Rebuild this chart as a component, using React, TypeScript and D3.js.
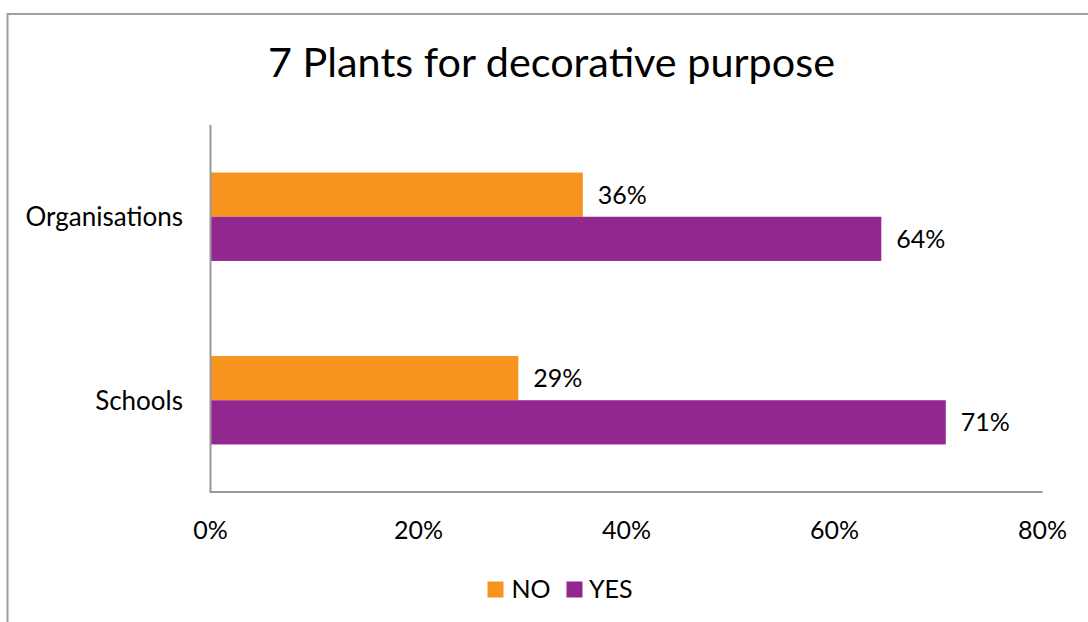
import React from "react";
import * as d3 from "d3";

const categories = ["Organisations", "Schools"];
const seriesNames = ["NO", "YES"];
const noValues = [35.8, 29.6];
const yesValues = [64.5, 70.7];
const noLabels = ["36%", "29%"];
const yesLabels = ["64%", "71%"];
const xTicks = [0, 20, 40, 60, 80];
const colors = ["#F7941D", "#92278F"];
const title = "7 Plants for decorative purpose";

const W = 1088;
const H = 622;
const FONT = "Lato, 'Open Sans', sans-serif";

export default function App() {
  const x = d3.scaleLinear().domain([0, 80]).range([210.5, 1042.5]);
  const y = d3.scaleBand<string>().domain(categories).range([125, 492]).padding(0);
  const inner = d3
    .scaleBand<string>()
    .domain(seriesNames)
    .range([0, y.bandwidth()])
    .paddingInner(0)
    .paddingOuter(1.076);

  const series = [
    { name: "NO", values: noValues, labels: noLabels, color: colors[0] },
    { name: "YES", values: yesValues, labels: yesLabels, color: colors[1] },
  ];

  return (
    <svg
      width={W}
      height={H}
      style={{ position: "absolute", left: 0, top: 0, background: "#fff" }}
      fontFamily={FONT}
    >
      <rect x={7.5} y={14} width={W + 20} height={H + 20} fill="#fff" stroke="#a0a0a0" strokeWidth={2} />
      <text x={268} y={77} fontSize={40} fill="#000" textLength={567} lengthAdjust="spacingAndGlyphs">
        {title}
      </text>

      {series.map((s) =>
        categories.map((c, i) => {
          const y0 = (y(c) ?? 0) + (inner(s.name) ?? 0);
          const bh = inner.bandwidth();
          return (
            <g key={s.name + c}>
              <rect x={x(0)} y={y0} width={x(s.values[i]) - x(0)} height={bh} fill={s.color} />
              <text
                x={x(s.values[i]) + 15}
                y={y0 + bh / 2}
                dy="0.36em"
                fontSize={25}
                fill="#000"
              >
                {s.labels[i]}
              </text>
            </g>
          );
        })
      )}

      <line x1={x(0)} x2={x(0)} y1={125} y2={492} stroke="#999" strokeWidth={2} />
      <line x1={x(0) - 1} x2={x(80)} y1={492} y2={492} stroke="#999" strokeWidth={2} />

      {categories.map((c) => (
        <text
          key={c}
          x={183}
          y={(y(c) ?? 0) + y.bandwidth() / 2}
          dy="0.36em"
          textAnchor="end"
          fontSize={26}
          fill="#000"
        >
          {c}
        </text>
      ))}

      {xTicks.map((t) => (
        <text key={t} x={x(t)} y={539} textAnchor="middle" fontSize={25} fill="#000">
          {t + "%"}
        </text>
      ))}

      <g>
        <rect x={487.5} y={581.5} width={16} height={16} fill={colors[0]} />
        <text x={511.5} y={597.5} fontSize={25} fill="#000">
          {seriesNames[0]}
        </text>
        <rect x={566.5} y={581.5} width={16} height={16} fill={colors[1]} />
        <text x={589} y={597.5} fontSize={25} fill="#000">
          {seriesNames[1]}
        </text>
      </g>
    </svg>
  );
}
